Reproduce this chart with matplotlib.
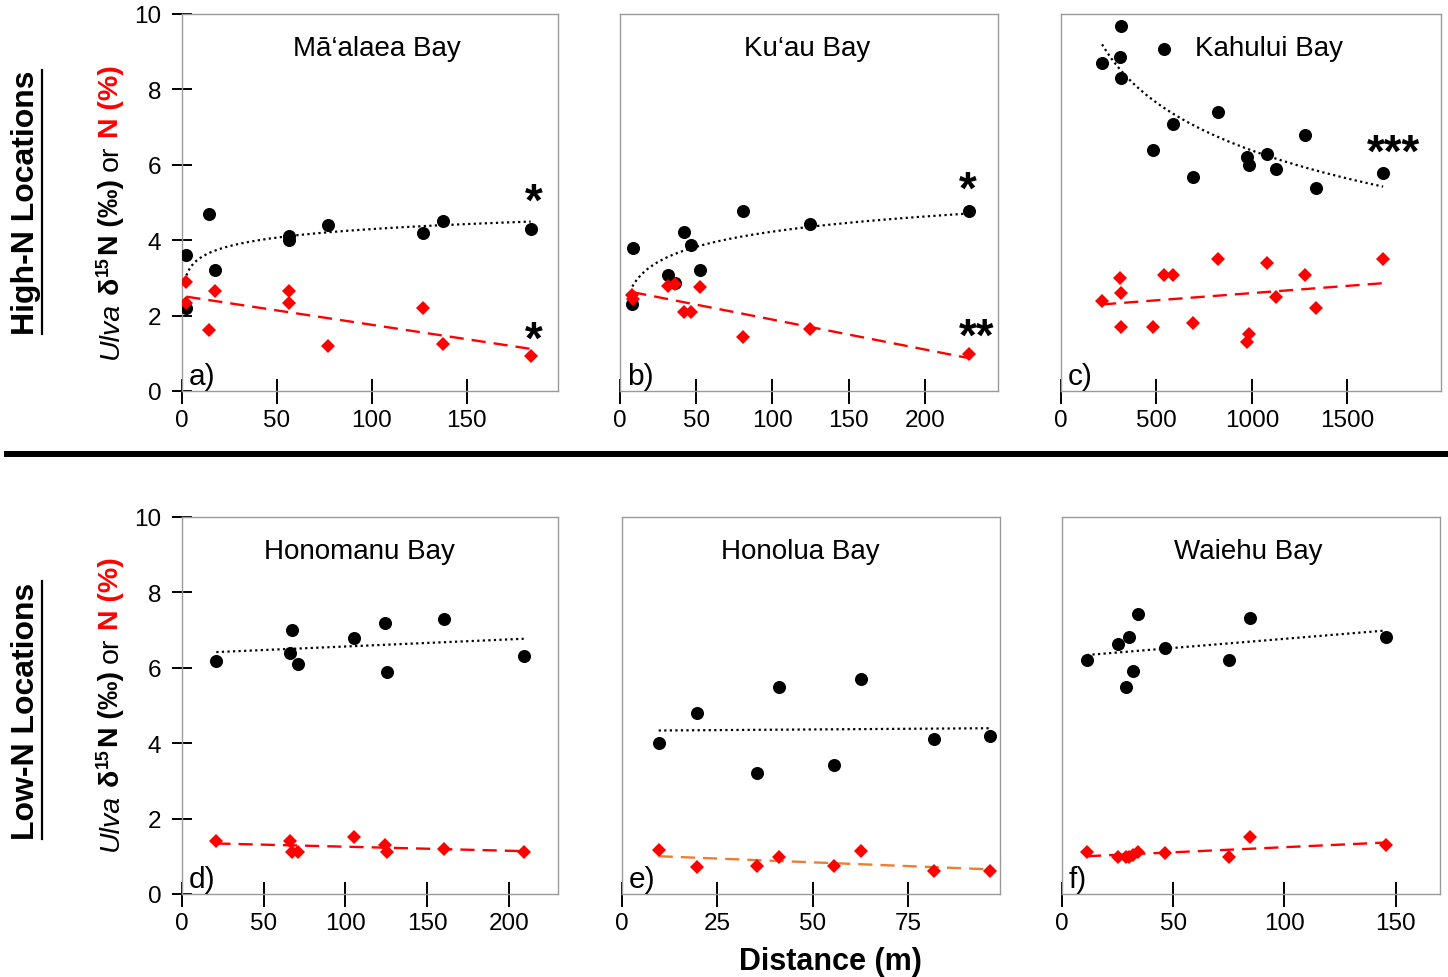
import numpy as np
import matplotlib
matplotlib.use("Agg")
import matplotlib.pyplot as plt
from matplotlib.lines import Line2D
from matplotlib.transforms import IdentityTransform

plt.rcParams['font.family'] = ['Liberation Sans', 'DejaVu Sans']

W, H = 1448, 978

# ---------------- data ----------------
bay_names = ["Mā‘alaea Bay", "Ku‘au Bay", "Kahului Bay",
             "Honomanu Bay", "Honolua Bay", "Waiehu Bay"]
panel_tags = ["a)", "b)", "c)", "d)", "e)", "f)"]

maalaea_dist = [2.3, 2.3, 14.1, 17.3, 56.3, 56.3, 77.1, 126.8, 137.3, 183.6]
maalaea_d15n = [3.6, 2.2, 4.7, 3.2, 4.1, 4.0, 4.4, 4.2, 4.5, 4.3]
maalaea_n = [2.89, 2.34, 1.61, 2.65, 2.65, 2.34, 1.19, 2.21, 1.24, 0.93]

kuau_dist = [8.8, 8.1, 31.4, 36.2, 42.3, 46.7, 52.6, 80.5, 124.6, 228.7]
kuau_d15n = [3.78, 2.31, 3.09, 2.87, 4.21, 3.88, 3.21, 4.77, 4.43, 4.77]
kuau_n = [2.45, 2.55, 2.78, 2.84, 2.09, 2.09, 2.77, 1.43, 1.65, 0.99]

kahului_dist = [215, 311, 316, 316, 481, 542, 587, 692, 823, 975, 982, 1077, 1127, 1278, 1334, 1687]
kahului_d15n = [8.69, 8.87, 9.69, 8.29, 6.38, 9.08, 7.09, 5.68, 7.39, 6.20, 5.99, 6.29, 5.89, 6.79, 5.39, 5.79]
kahului_n = [2.40, 2.99, 2.60, 1.70, 1.70, 3.09, 3.09, 1.80, 3.49, 1.30, 1.50, 3.39, 2.49, 3.09, 2.19, 3.49]

honomanu_dist = [21, 66, 67, 71, 105.5, 124, 125.5, 160, 209]
honomanu_d15n = [6.19, 6.40, 6.99, 6.11, 6.80, 7.19, 5.90, 7.30, 6.30]
honomanu_n = [1.40, 1.40, 1.11, 1.11, 1.50, 1.31, 1.11, 1.19, 1.11]

honolua_dist = [9.6, 19.6, 35.3, 41.0, 55.4, 62.6, 81.8, 96.4]
honolua_d15n = [4.0, 4.8, 3.2, 5.5, 3.41, 5.7, 4.11, 4.2]
honolua_n = [1.18, 0.71, 0.73, 0.99, 0.75, 1.15, 0.60, 0.60]

waiehu_dist = [11.2, 25.3, 28.6, 30.2, 31.8, 34.2, 46.4, 75.0, 84.7, 145.5]
waiehu_d15n = [6.21, 6.62, 5.50, 6.81, 5.91, 7.42, 6.52, 6.21, 7.32, 6.81]
waiehu_n = [1.12, 0.99, 0.97, 0.97, 1.04, 1.12, 1.09, 0.99, 1.50, 1.31]

# trend model for each panel (d15N, N)
d15n_models = ["log", "log", "log", "linear", "linear", "linear"]
n_models = ["linear"] * 6

x_ticks = [[0, 50, 100, 150], [0, 50, 100, 150, 200], [0, 500, 1000, 1500],
           [0, 50, 100, 150, 200], [0, 25, 50, 75], [0, 50, 100, 150]]
x_limits = [198, 248, 1990, 230, 99, 170]
y_ticks = [0, 2, 4, 6, 8, 10]

# significance stars: (d15N, N)
sig_d15n = ["*", "*", "***", "", "", ""]
sig_n = ["*", "**", "", "", "", ""]

dists = [maalaea_dist, kuau_dist, kahului_dist, honomanu_dist, honolua_dist, waiehu_dist]
d15ns = [maalaea_d15n, kuau_d15n, kahului_d15n, honomanu_d15n, honolua_d15n, waiehu_d15n]
ns = [maalaea_n, kuau_n, kahului_n, honomanu_n, honolua_n, waiehu_n]

# ---------------- layout ----------------
boxes = [(182, 15, 558, 392), (620, 15, 998, 392), (1061, 15, 1441, 392),
         (182, 518, 558, 895), (622, 518, 1000, 895), (1062, 518, 1440, 895)]
title_x = [0.519, 0.496, 0.547, 0.472, 0.471, 0.492]
star_d15n_pos = [(0.936, 0.536), (0.921, 0.570), (0.874, 0.668), None, None, None]
star_n_pos = [(0.936, 0.170), (0.944, 0.178), None, None, None, None]
n_line_colors = ["#ff0000", "#ff0000", "#ff0000", "#ff0000", "#ED7D31", "#ff0000"]

fig = plt.figure(figsize=(W / 100, H / 100), dpi=100)


def fit_curve(x, y, model):
    x = np.asarray(x, float)
    y = np.asarray(y, float)
    xs = np.linspace(x.min(), x.max(), 200)
    if model == "log":
        c = np.polyfit(np.log(x), y, 1)
        return xs, np.polyval(c, np.log(xs))
    c = np.polyfit(x, y, 1)
    return xs, np.polyval(c, xs)


STAR_FS = 33
for i in range(6):
    l, t, r, b = boxes[i]
    ax = fig.add_axes([l / W, 1 - b / H, (r - l) / W, (b - t) / H])
    x = dists[i]
    xs, ys = fit_curve(x, d15ns[i], d15n_models[i])
    ax.plot(xs, ys, color="black", lw=1.6, ls=(0, (1, 1.5)), zorder=2)
    xs, ys = fit_curve(x, ns[i], n_models[i])
    ax.plot(xs, ys, color=n_line_colors[i], lw=1.7, ls=(0, (6, 3.4)), zorder=2)
    ax.plot(x, d15ns[i], "o", color="black", ms=9.4, mew=0, zorder=3)
    ax.plot(x, ns[i], "D", color="#ff0000", ms=7.6, mew=0, zorder=3)

    ax.set_xlim(0, x_limits[i])
    ax.set_ylim(0, 10)
    ax.set_xticks(x_ticks[i])
    ax.set_yticks(y_ticks)
    for s in ax.spines.values():
        s.set_color("#9a9a9a")
        s.set_linewidth(1.0)
    ax.tick_params(axis="x", direction="inout", length=18, width=1.4,
                   color="black", labelsize=17.5, pad=4)
    if i in (0, 3):
        ax.tick_params(axis="y", direction="inout", length=14, width=1.4,
                       color="black", labelsize=17.5, pad=8)
    else:
        ax.tick_params(axis="y", left=False, labelleft=False)

    ax.text(title_x[i], 0.89, bay_names[i], transform=ax.transAxes,
            ha="center", va="baseline", fontsize=20)
    ax.text(0.018, 0.018, panel_tags[i], transform=ax.transAxes,
            ha="left", va="baseline", fontsize=21.5)
    for sig, pos in ((sig_d15n[i], star_d15n_pos[i]), (sig_n[i], star_n_pos[i])):
        if sig and pos:
            ax.annotate(sig, xy=pos, xycoords="axes fraction",
                        xytext=(0, -0.57 * STAR_FS), textcoords="offset points",
                        ha="center", va="baseline", fontsize=STAR_FS,
                        fontweight="bold")

# separator line
fig.add_artist(Line2D([7 / W, 1.0], [1 - 455 / H, 1 - 455 / H],
                      transform=fig.transFigure, color="black", lw=4.3))

# x label
fig.text(830 / W, 1 - 970 / H, "Distance (m)", ha="center", va="baseline",
         fontsize=22, fontweight="bold")

fig.canvas.draw()
renderer = fig.canvas.get_renderer()
ident = IdentityTransform()

# row labels (rotated, bold, underlined)
for label, yc in (("High-N Locations", 203), ("Low-N Locations", 711)):
    bx = 34
    t = fig.text(bx, H - yc, label, transform=ident, rotation=90,
                 rotation_mode="anchor", ha="center", va="baseline",
                 fontsize=23, fontweight="bold")
    bb = t.get_window_extent(renderer)
    fig.add_artist(Line2D([bx + 8, bx + 8], [bb.y0, bb.y1], transform=ident,
                          color="black", lw=1.6))

# y-axis labels (multi-style, rotated)
FS = 20.5
fs_px = FS * 100 / 72
sp = 0.278 * fs_px
pieces = [
    ("Ulva", dict(style="italic"), 0, sp),
    ("δ", dict(weight="bold"), 0, 0.5),
    ("15", dict(weight="bold", size=FS * 0.62), -0.36 * fs_px, 0.5),
    ("N (‰)", dict(weight="bold"), 0, sp),
    ("or", dict(), 0, sp),
    ("N (%)", dict(weight="bold", color="#ff0000"), 0, 0),
]
for yc in (212, 704):
    bx = 118
    made = []
    total = 0
    for s, kw, dx, gap in pieces:
        kw2 = dict(size=FS)
        kw2.update(kw)
        t = fig.text(bx + dx, 0, s, transform=ident, rotation=90,
                     rotation_mode="anchor", ha="left", va="baseline", **kw2)
        ext = t.get_window_extent(renderer)
        made.append((t, ext.height, gap))
        total += ext.height + gap
    y = (H - yc) - total / 2
    for t, hgt, gap in made:
        t.set_y(y)
        y += hgt + gap

fig.savefig("out.png", dpi=100)
